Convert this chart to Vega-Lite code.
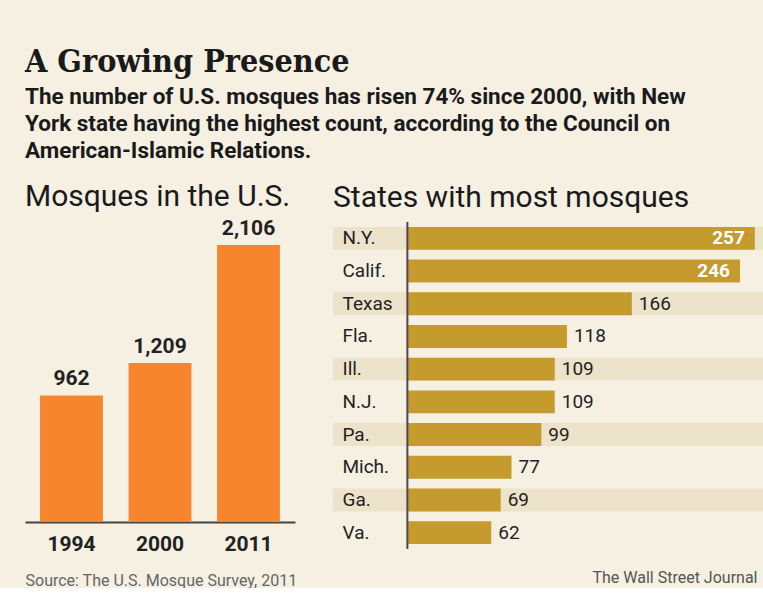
{
  "$schema": "https://vega.github.io/schema/vega-lite/v6.json",
  "background": "#f5f0e2",
  "padding": {"left": 25, "top": 46, "right": 0, "bottom": 0},
  "bounds": "flush",
  "config": {
    "view": {"stroke": null},
    "font": "Roboto, sans-serif",
    "concat": {"spacing": 38}
  },
  "title": {
    "text": "A Growing Presence",
    "subtitle": [
      "The number of U.S. mosques has risen 74% since 2000, with New",
      "York state having the highest count, according to the Council on",
      "American-Islamic Relations."
    ],
    "anchor": "start",
    "frame": "group",
    "font": "DejaVu Serif Condensed, DejaVu Serif, serif",
    "fontSize": 32,
    "fontWeight": "bold",
    "color": "#1a1a1a",
    "subtitleFont": "Roboto, sans-serif",
    "subtitleFontSize": 22.5,
    "subtitleFontWeight": "bold",
    "subtitleColor": "#1a1a1a",
    "subtitleLineHeight": 27,
    "subtitlePadding": 7,
    "offset": 18
  },
  "hconcat": [
    {
      "width": 270,
      "height": 300,
      "title": {"text": "Mosques in the U.S.", "anchor": "start", "fontSize": 30, "fontWeight": "normal", "color": "#1a1a1a", "offset": 6},
      "data": {"values": [
        {"year": "1994", "count": 962},
        {"year": "2000", "count": 1209},
        {"year": "2011", "count": 2106}
      ]},
      "encoding": {
        "x": {
          "field": "year", "type": "nominal",
          "scale": {"paddingInner": 0.29, "paddingOuter": 0.17},
          "axis": {
            "title": "Source: The U.S. Mosque Survey, 2011",
            "titleAnchor": "start", "titleAlign": "left",
            "titleFontSize": 16, "titleFontWeight": "normal", "titleColor": "#666666",
            "titlePadding": 18,
            "labelAngle": 0, "labelFontSize": 21, "labelFontWeight": "bold", "labelColor": "#222222",
            "labelPadding": 11,
            "ticks": false, "domainColor": "#444444", "domainWidth": 2
          }
        },
        "y": {"field": "count", "type": "quantitative", "scale": {"domain": [0, 2280], "nice": false}, "axis": null}
      },
      "layer": [
        {"mark": {"type": "bar", "color": "#f6862d"}},
        {
          "mark": {"type": "text", "baseline": "bottom", "dy": -6, "fontSize": 21, "fontWeight": "bold", "color": "#222222"},
          "encoding": {"text": {"field": "count", "type": "quantitative", "format": ","}}
        }
      ]
    },
    {
      "width": 430,
      "height": 327,
      "title": {"text": "States with most mosques", "anchor": "start", "fontSize": 30, "fontWeight": "normal", "color": "#1a1a1a", "offset": 8},
      "data": {"values": [
        {"state": "N.Y.", "count": 257},
        {"state": "Calif.", "count": 246},
        {"state": "Texas", "count": 166},
        {"state": "Fla.", "count": 118},
        {"state": "Ill.", "count": 109},
        {"state": "N.J.", "count": 109},
        {"state": "Pa.", "count": 99},
        {"state": "Mich.", "count": 77},
        {"state": "Ga.", "count": 69},
        {"state": "Va.", "count": 62}
      ]},
      "layer": [
        {
          "transform": [
            {"window": [{"op": "row_number", "as": "rank"}]},
            {"filter": "datum.rank % 2 == 1"}
          ],
          "mark": {"type": "bar", "color": "#ede3ca"},
          "encoding": {
            "y": {"field": "state", "type": "nominal", "sort": ["N.Y.", "Calif.", "Texas", "Fla.", "Ill.", "N.J.", "Pa.", "Mich.", "Ga.", "Va."], "scale": {"paddingInner": 0.3, "paddingOuter": 0.15}, "axis": null},
            "x": {"datum": -55, "type": "quantitative"},
            "x2": {"datum": 263}
          }
        },
        {
          "mark": {"type": "bar", "color": "#c49b2c"},
          "encoding": {
            "y": {"field": "state", "type": "nominal", "sort": ["N.Y.", "Calif.", "Texas", "Fla.", "Ill.", "N.J.", "Pa.", "Mich.", "Ga.", "Va."], "axis": null},
            "x": {
              "field": "count", "type": "quantitative",
              "scale": {"domain": [-55, 263], "nice": false, "zero": false},
              "axis": {
                "title": "The Wall Street Journal",
                "titleAnchor": "end", "titleAlign": "right", "titleX": 424,
                "titleFontSize": 16, "titleFontWeight": "normal", "titleColor": "#555555",
                "titlePadding": 20,
                "labels": false, "ticks": false, "domain": false, "grid": false
              }
            }
          }
        },
        {
          "data": {"values": [{}]},
          "mark": {"type": "rule", "color": "#4f4656", "strokeWidth": 2},
          "encoding": {"x": {"datum": 0, "type": "quantitative"}}
        },
        {
          "mark": {"type": "text", "align": "left", "fontSize": 19, "color": "#222222"},
          "encoding": {
            "y": {"field": "state", "type": "nominal", "sort": ["N.Y.", "Calif.", "Texas", "Fla.", "Ill.", "N.J.", "Pa.", "Mich.", "Ga.", "Va."], "axis": null},
            "x": {"datum": -48, "type": "quantitative"},
            "text": {"field": "state"}
          }
        },
        {
          "transform": [{"filter": "datum.count < 200"}],
          "mark": {"type": "text", "align": "left", "dx": 7, "fontSize": 19, "color": "#222222"},
          "encoding": {
            "y": {"field": "state", "type": "nominal", "sort": ["N.Y.", "Calif.", "Texas", "Fla.", "Ill.", "N.J.", "Pa.", "Mich.", "Ga.", "Va."], "axis": null},
            "x": {"field": "count", "type": "quantitative"},
            "text": {"field": "count", "type": "quantitative"}
          }
        },
        {
          "transform": [{"filter": "datum.count >= 200"}],
          "mark": {"type": "text", "align": "right", "dx": -10, "fontSize": 19, "fontWeight": "bold", "color": "#ffffff"},
          "encoding": {
            "y": {"field": "state", "type": "nominal", "sort": ["N.Y.", "Calif.", "Texas", "Fla.", "Ill.", "N.J.", "Pa.", "Mich.", "Ga.", "Va."], "axis": null},
            "x": {"field": "count", "type": "quantitative"},
            "text": {"field": "count", "type": "quantitative"}
          }
        }
      ]
    }
  ]
}
